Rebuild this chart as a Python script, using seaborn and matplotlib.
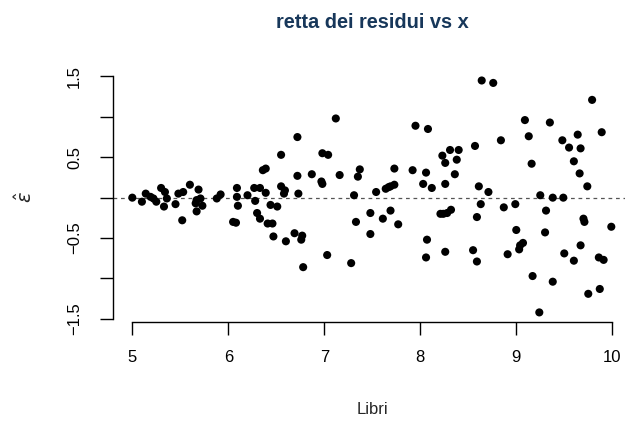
import matplotlib
matplotlib.use("Agg")
import matplotlib.pyplot as plt
import seaborn as sns
import pandas as pd
import numpy as np

# Residuals of the linear fit against the explanatory variable "Libri"
libri = [5.00, 5.10, 5.14, 5.19, 5.22, 5.25, 5.30, 5.33, 5.34, 5.36,
         5.45, 5.48, 5.52, 5.53, 5.60, 5.66, 5.67, 5.67, 5.69, 5.71,
         5.73, 5.88, 5.92, 6.05, 6.08, 6.09, 6.09, 6.10, 6.20, 6.27,
         6.28, 6.30, 6.33, 6.33, 6.36, 6.39, 6.39, 6.41, 6.44, 6.46,
         6.47, 6.51, 6.55, 6.55, 6.59, 6.58, 6.60, 6.69, 6.72, 6.72,
         6.73, 6.76, 6.77, 6.78, 6.87, 6.97, 6.98, 6.98, 7.03, 7.04,
         7.12, 7.16, 7.28, 7.31, 7.33, 7.35, 7.37, 7.48, 7.48, 7.54,
         7.61, 7.64, 7.67, 7.69, 7.69, 7.73, 7.73, 7.77, 7.92, 7.95,
         8.03, 8.06, 8.06, 8.07, 8.08, 8.12, 8.21, 8.23, 8.24, 8.26,
         8.26, 8.26, 8.28, 8.31, 8.32, 8.36, 8.38, 8.40, 8.55, 8.57,
         8.59, 8.59, 8.61, 8.63, 8.64, 8.71, 8.76, 8.84, 8.87, 8.91,
         8.99, 9.00, 9.03, 9.04, 9.07, 9.09, 9.13, 9.16, 9.17, 9.24,
         9.25, 9.30, 9.31, 9.35, 9.38, 9.38, 9.48, 9.49, 9.50, 9.55,
         9.60, 9.60, 9.64, 9.66, 9.67, 9.67, 9.70, 9.71, 9.74, 9.75,
         9.79, 9.86, 9.87, 9.89, 9.91, 9.99]
residui = [0.00, -0.05, 0.05, 0.01, -0.01, -0.05, 0.12, -0.11, 0.07, -0.01,
           -0.08, 0.05, -0.28, 0.07, 0.16, -0.07, -0.03, -0.17, 0.10, -0.01,
           -0.10, -0.01, 0.04, -0.30, -0.31, 0.12, 0.01, -0.10, 0.03, 0.12,
           -0.04, -0.19, 0.12, -0.26, 0.34, 0.36, 0.06, -0.32, -0.09, -0.32,
           -0.48, -0.11, 0.53, 0.14, 0.09, 0.05, -0.54, -0.44, 0.75, 0.27,
           0.05, -0.52, -0.47, -0.86, 0.29, 0.20, 0.17, 0.55, -0.71, 0.53,
           0.98, 0.28, -0.81, 0.03, -0.30, 0.26, 0.35, -0.19, -0.45, 0.07,
           -0.26, 0.11, 0.13, -0.16, 0.14, 0.16, 0.36, -0.33, 0.34, 0.89,
           0.17, 0.31, -0.74, -0.52, 0.85, 0.12, -0.20, 0.52, -0.20, 0.43,
           0.17, -0.67, -0.19, 0.59, -0.15, 0.29, 0.47, 0.59, -0.65, 0.64,
           -0.24, -0.79, 0.14, -0.08, 1.45, 0.07, 1.42, 0.71, -0.12, -0.70,
           -0.08, -0.40, -0.64, -0.59, -0.56, 0.96, 0.76, 0.42, -0.97, -1.42,
           0.03, -0.43, -0.16, 0.93, 0.00, -1.04, 0.71, 0.00, -0.69, 0.62,
           0.45, -0.78, 0.78, 0.30, 0.61, -0.59, -0.26, -0.30, 0.14, -1.19,
           1.21, -0.74, -1.13, 0.81, -0.77, -0.36]

x_ticks = [5, 6, 7, 8, 9, 10]
y_ticks = [-1.5, -1.0, -0.5, 0.0, 0.5, 1.0, 1.5]
y_tick_labels = ["\u22121.5", "", "\u22120.5", "", "0.5", "", "1.5"]

df = pd.DataFrame({"Libri": libri, "residui": residui})

sns.set_style("white")
plt.rcParams["font.family"] = ["Liberation Sans", "DejaVu Sans"]
plt.rcParams["axes.unicode_minus"] = True
plt.rcParams["mathtext.fontset"] = "dejavusans"

W, H = 625, 421
fig = plt.figure(figsize=(W / 100, H / 100), dpi=100)
ax = fig.add_axes([113.3 / W, (H - 321.7) / H, 517.2 / W, (321.7 - 71.2) / H])

ax.axhline(0, color="#555555", linestyle=(0, (3, 3)), linewidth=0.9, zorder=1)
sns.scatterplot(data=df, x="Libri", y="residui", ax=ax, color="black",
                s=34, edgecolor="none", linewidth=0, zorder=3, legend=False)

ax.set_xlim(4.802, 10.19)
ax.set_ylim(-1.535, 1.565)
ax.set_xticks(x_ticks)
ax.set_xticklabels([str(t) for t in x_ticks])
ax.set_yticks(y_ticks)
ax.set_yticklabels(y_tick_labels, rotation=90, va="center")

for side in ("top", "right"):
    ax.spines[side].set_visible(False)
for side in ("left", "bottom"):
    ax.spines[side].set_color("black")
    ax.spines[side].set_linewidth(1.0)
ax.spines["bottom"].set_bounds(5, 10)
ax.spines["left"].set_bounds(-1.5, 1.5)

ax.tick_params(axis="both", which="major", direction="out", length=9.4,
               width=1.0, color="black", labelsize=12, labelcolor="black",
               bottom=True, left=True)
ax.tick_params(axis="x", pad=11)
ax.tick_params(axis="y", pad=13)

ax.set_xlabel("")
ax.set_ylabel("")
fig.text(372 / W, 1 - 410 / H, "Libri", ha="center", va="center", fontsize=12)

# epsilon-hat label on the y axis
fig.text(25 / W, 1 - 197.5 / H, r"$\hat{\varepsilon}$", ha="center",
         va="center", fontsize=14, rotation=90)

fig.text(372 / W, 1 - 22 / H, "retta dei residui vs x", ha="center",
         va="center", fontsize=14.4, fontweight="bold", color="#17375a")

fig.savefig("out.png", dpi=100)
